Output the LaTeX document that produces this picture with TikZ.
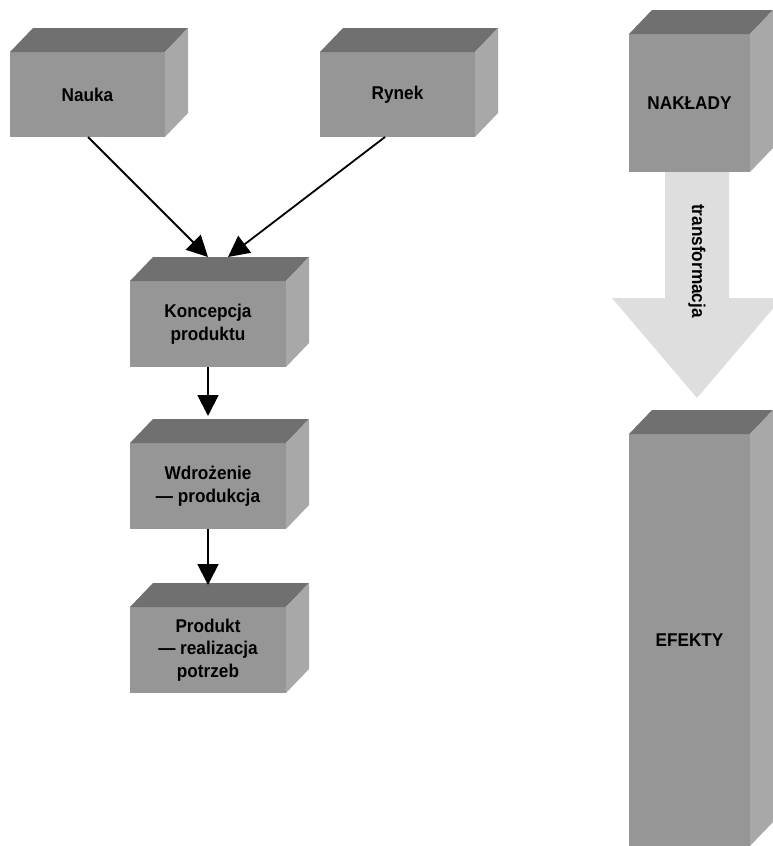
\documentclass[tikz,border=0pt]{standalone}
\usepackage{fontspec}
\setmainfont{Liberation Sans}
\newfontfamily\boxfont[FakeStretch=0.93]{Liberation Sans}
\usetikzlibrary{arrows.meta,calc}
\definecolor{frontc}{HTML}{969696}
\definecolor{topc}{HTML}{707070}
\definecolor{sidec}{HTML}{A8A8A8}
\definecolor{bigarrow}{HTML}{DEDEDE}
\tikzset{
  front/.style={fill=frontc, inner sep=0pt, outer sep=0pt, align=center,
    font=\boxfont\bfseries\fontsize{18.5}{22.5}\selectfont},
  arr/.style={line width=1.8pt, -{Triangle[length=21pt,width=21pt]}},
}
\newcommand\cuboid[1]{%
  \fill[topc] (#1.north west) -- ([shift={(23,-24)}]#1.north west) -- ([shift={(23,-24)}]#1.north east) -- (#1.north east) -- cycle;
  \fill[sidec] (#1.north east) -- ([shift={(23,-24)}]#1.north east) -- ([shift={(23,-24)}]#1.south east) -- (#1.south east) -- cycle;
}
\begin{document}
\begin{tikzpicture}[x=1pt,y=-1pt]
\useasboundingbox (0,0) rectangle (773,846);
% boxes
\node[front, minimum width=155pt, minimum height=85pt] (nauka) at (87.5,94.5) {Nauka};
\node[front, minimum width=155pt, minimum height=85pt] (rynek) at (397.5,94.5) {Rynek};
\node[front, minimum width=156pt, minimum height=86pt] (konc) at (208,324) {Koncepcja\\produktu};
\node[front, minimum width=156pt, minimum height=86pt] (wdr) at (208,486) {Wdrożenie\\— produkcja};
\node[front, minimum width=156pt, minimum height=86pt] (prod) at (208,650) {Produkt\\— realizacja\\potrzeb};
\node[front, minimum width=121pt, minimum height=138pt] (nakl) at (689.5,103) {NAKŁADY};
\node[front, minimum width=121pt, minimum height=412pt] (efekty) at (689.5,640) {EFEKTY};
\cuboid{nauka}
\cuboid{rynek}
\cuboid{konc}
\cuboid{wdr}
\cuboid{prod}
\cuboid{nakl}
\cuboid{efekty}
% big transformation arrow
\fill[bigarrow] ([xshift=-24.5pt]nakl.south) -- ([xshift=39.5pt]nakl.south)
  -- ([shift={(39.5,126)}]nakl.south) -- ([shift={(92.5,126)}]nakl.south)
  -- ([shift={(7.5,226)}]nakl.south) -- ([shift={(-77.5,126)}]nakl.south)
  -- ([shift={(-24.5,126)}]nakl.south) -- cycle;
\node[rotate=-90, font=\boxfont\bfseries\fontsize{18.5}{22.5}\selectfont, inner sep=0pt] (transf) at (697,261) {transformacja};
% connectors
\draw[arr] ([xshift=78pt]nauka.south west) -- ([shift={(78,-24)}]konc.north west);
\draw[arr] ([xshift=65pt]rynek.south west) -- ([shift={(98,-24)}]konc.north west);
\draw[arr] (konc.south) -- ([yshift=27pt]wdr.north);
\draw[arr] (wdr.south) -- ([yshift=22pt]prod.north);
\end{tikzpicture}
\end{document}
